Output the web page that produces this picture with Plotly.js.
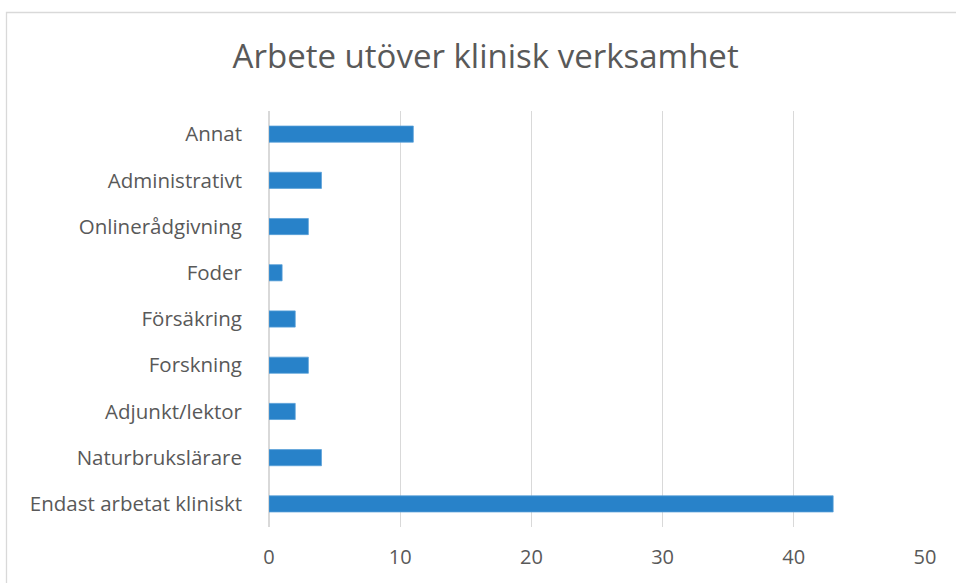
<!DOCTYPE html>
<html>
<head>
<meta charset="utf-8">
<script src="https://cdn.plot.ly/plotly-3.0.1.min.js"></script>
<style>
  html, body { margin: 0; padding: 0; background: #ffffff; }
  #chart { width: 956px; height: 583px; }
</style>
</head>
<body>
<div id="chart"></div>
<script>
// Categories, bottom to top
const categories = [
  "Endast arbetat kliniskt",
  "Naturbrukslärare",
  "Adjunkt/lektor",
  "Forskning",
  "Försäkring",
  "Foder",
  "Onlinerådgivning",
  "Administrativt",
  "Annat"
];
const values = [43, 4, 2, 3, 2, 1, 3, 4, 11];
const xTickVals = [0, 10, 20, 30, 40, 50];
const titleText = "Arbete utöver klinisk verksamhet";

const FONT = "'Open Sans', sans-serif";
const TEXT = "#595959";
const GRID = "#d9d9d9";

const ml = 269, mr = 31, mt = 111, mb = 56;
const W = 956, H = 583;
const pw = W - ml - mr, ph = H - mt - mb;
const px2paperX = px => (px - ml) / pw;
const px2paperY = py => (H - mb - py) / ph;

const trace = {
  type: "bar",
  orientation: "h",
  x: values,
  y: categories,
  marker: { color: "#2882c9", line: { color: "#5aa0d8", width: 0.75 } },
  hoverinfo: "x+y"
};

const layout = {
  width: W,
  height: H,
  margin: { l: ml, r: mr, t: mt, b: mb },
  paper_bgcolor: "#ffffff",
  plot_bgcolor: "#ffffff",
  bargap: 0.65,
  showlegend: false,
  title: {
    text: titleText,
    font: { family: FONT, size: 33, color: TEXT },
    xref: "container", x: 0.508, xanchor: "center",
    yref: "container", y: 1 - 56 / H, yanchor: "middle"
  },
  xaxis: {
    range: [0, 50],
    tickvals: xTickVals,
    showgrid: true,
    gridcolor: GRID,
    gridwidth: 1.3,
    zeroline: true,
    zerolinecolor: GRID,
    zerolinewidth: 1.3,
    showline: false,
    ticks: "",
    ticklabelstandoff: 16,
    tickfont: { family: FONT, size: 20, color: TEXT },
    fixedrange: true
  },
  yaxis: {
    type: "category",
    showgrid: false,
    zeroline: false,
    showline: false,
    ticks: "",
    ticklabelstandoff: 26,
    tickfont: { family: FONT, size: 20.5, color: TEXT },
    fixedrange: true
  },
  shapes: [{
    type: "rect",
    xref: "paper", yref: "paper",
    x0: px2paperX(6.5), x1: px2paperX(1100),
    y0: px2paperY(800), y1: px2paperY(12.5),
    line: { color: GRID, width: 1.3 },
    fillcolor: "rgba(0,0,0,0)",
    layer: "below"
  }]
};

Plotly.newPlot("chart", [trace], layout, { displayModeBar: false, staticPlot: true });
</script>
</body>
</html>
